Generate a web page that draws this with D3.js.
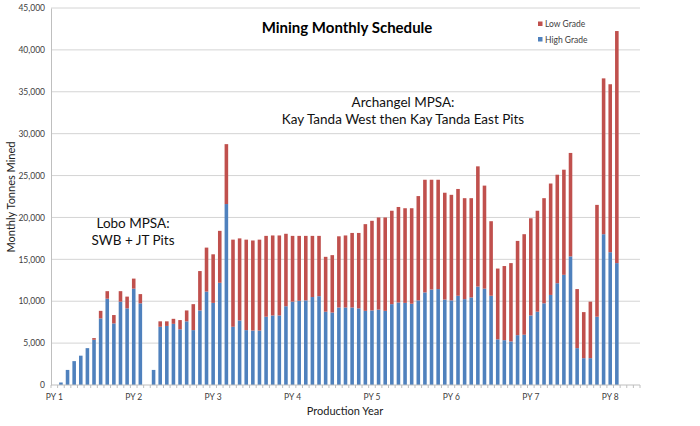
<!DOCTYPE html>
<html><head><meta charset="utf-8">
<script src="https://cdn.jsdelivr.net/npm/d3@7"></script>
<style>body{margin:0;background:#fff;}svg{display:block;}</style>
</head><body>
<svg id="chart" width="700" height="426"></svg>
<script>
const months = d3.range(1, 90).map(String);
const highGrade = [0,300,1800,2850,3500,4400,5400,7950,10300,7350,9950,9150,11500,9750,0,1800,6950,7050,7300,6650,7600,6550,8900,11150,9800,12200,21600,6950,7700,6550,6500,6500,8150,8300,8300,9400,9950,10050,10100,10500,10600,8750,8650,9250,9250,9250,9150,8850,8900,9000,8850,9650,9850,9800,9700,10100,11050,11400,11450,10200,10100,10650,10250,10450,11750,11500,10650,5450,5350,5200,5950,6000,8300,8750,9750,10750,12150,13150,15350,4400,3200,3200,8150,18000,15850,14550,0,0,0];
const lowGrade = [0,0,0,0,0,0,200,900,900,1000,1250,1400,1200,1100,0,0,650,550,600,1100,1300,3100,4700,5250,5800,6200,7150,10400,9800,10800,10750,10850,9650,9550,9550,8650,7850,7750,7700,7300,7200,6550,6850,8500,8600,8900,9000,10350,10700,11000,11150,11150,11400,11300,11400,12450,13450,13100,13050,12750,12600,12750,12050,11850,14350,12300,8900,8450,8850,9350,11250,12000,11600,12050,12550,13300,12950,12550,12350,7050,5500,6750,13350,18600,20050,27700,0,0,0];
const yearLabels = ["PY 1","PY 2","PY 3","PY 4","PY 5","PY 6","PY 7","PY 8"];
const yTicks = [0,5000,10000,15000,20000,25000,30000,35000,40000,45000];
const seriesNames = ["High Grade","Low Grade"];
const colors = {"High Grade":"#4F81BD","Low Grade":"#C0504D"};

const svg = d3.select("#chart");
const x0 = 51, x1 = 640, yTop = 8, yBot = 385;
const x = d3.scaleBand().domain(months).range([x0, x1]).paddingInner(0.46).paddingOuter(0.23);
const y = d3.scaleLinear().domain([0,45000]).range([yBot, yTop]);

// gridlines
svg.append("g").selectAll("line").data(yTicks.filter(d=>d>0)).join("line")
  .attr("x1", x0).attr("x2", x1).attr("y1", d=>y(d)).attr("y2", d=>y(d))
  .attr("stroke", "#d4d4d4").attr("stroke-width", 1);

// y axis
const yAxis = d3.axisLeft(y).tickValues(yTicks).tickFormat(d3.format(",")).tickSize(0).tickPadding(6);
const ya = svg.append("g").attr("transform", `translate(${x0},0)`).call(yAxis);
ya.select(".domain").attr("stroke", "#bfbfbf");
ya.selectAll("text").attr("font-family", "Lato, 'Open Sans', sans-serif").attr("font-size", 8.5).attr("fill", "#404040");

// stacked bars
const rows = months.map((m,i)=>({month:m, "High Grade":highGrade[i], "Low Grade":lowGrade[i]}));
const stack = d3.stack().keys(seriesNames)(rows);
svg.append("g").selectAll("g").data(stack).join("g")
  .attr("fill", s=>colors[s.key])
  .selectAll("rect").data(s=>s).join("rect")
  .attr("x", d=>x(d.data.month)).attr("width", x.bandwidth())
  .attr("y", d=>y(d[1])).attr("height", d=>Math.max(0, y(d[0]) - y(d[1])));

// x axis
const xa = svg.append("g").attr("transform", `translate(0,${yBot})`);
xa.append("line").attr("x1", x0).attr("x2", x1).attr("stroke", "#bfbfbf");
const step = x.step();
xa.selectAll("line.tk").data(d3.range(months.length+1)).join("line").attr("class","tk")
  .attr("x1", i=>x0 + i*step).attr("x2", i=>x0 + i*step).attr("y1", 0).attr("y2", 3)
  .attr("stroke", "#bfbfbf");
xa.selectAll("text").data(yearLabels).join("text")
  .attr("x", (d,i)=>x(months[i*12]) + x.bandwidth()/2).attr("y", 15)
  .attr("text-anchor","middle").attr("font-family","Lato, 'Open Sans', sans-serif")
  .attr("font-size", 8.5).attr("fill","#404040").text(d=>d);

// titles
const font = "Lato, 'Open Sans', sans-serif";
svg.append("text").attr("x", 347).attr("y", 33).attr("text-anchor","middle")
  .attr("font-family", font).attr("font-weight","bold").attr("font-size", 15).attr("fill","#000").text("Mining Monthly Schedule");
svg.append("text").attr("x", 345).attr("y", 415).attr("text-anchor","middle")
  .attr("font-family", font).attr("font-size", 11).attr("fill","#222").text("Production Year");
svg.append("text").attr("transform","translate(15,197) rotate(-90)").attr("text-anchor","middle")
  .attr("font-family", font).attr("font-size", 11).attr("fill","#222").text("Monthly Tonnes Mined");

// annotations
const ann = [
  {t:"Lobo MPSA:", x:133, y:228},
  {t:"SWB + JT Pits", x:133, y:245},
  {t:"Archangel MPSA:", x:403, y:107},
  {t:"Kay Tanda West then Kay Tanda East Pits", x:403, y:124}
];
svg.append("g").selectAll("text").data(ann).join("text")
  .attr("x", d=>d.x).attr("y", d=>d.y).attr("text-anchor","middle")
  .attr("font-family", font).attr("font-size", 13.5).attr("fill","#111").text(d=>d.t);

// legend
const leg = svg.append("g");
const legItems = ["Low Grade","High Grade"];
legItems.forEach((k,i)=>{
  const ly = 24 + i*15.5;
  leg.append("rect").attr("x", 538).attr("y", ly-2.5).attr("width", 4.5).attr("height", 4.5).attr("fill", colors[k]);
  leg.append("text").attr("x", 545).attr("y", ly+3).attr("font-family", font).attr("font-size", 8.5).attr("fill","#404040").text(k);
});
</script>
</body></html>
